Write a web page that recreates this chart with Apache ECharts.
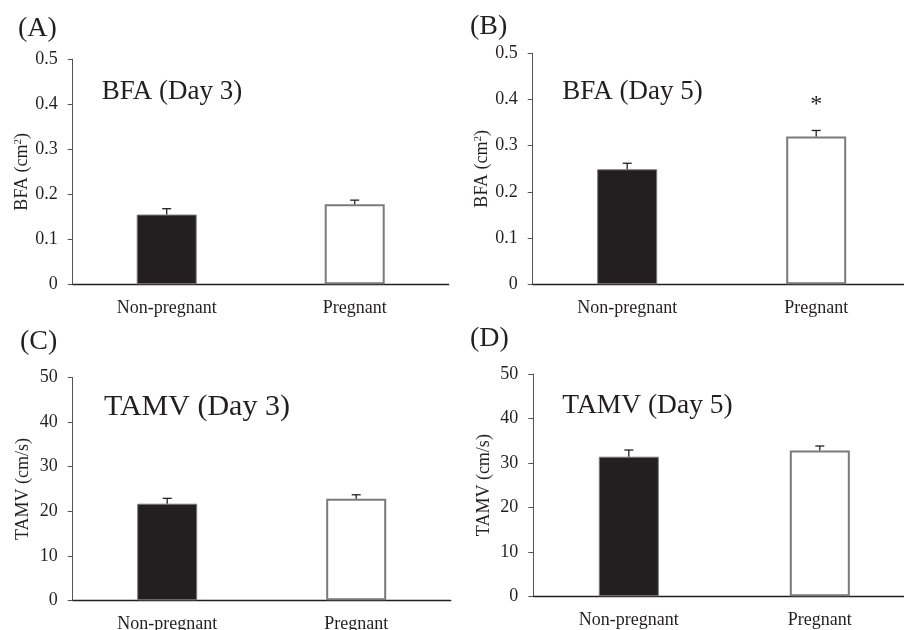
<!DOCTYPE html>
<html>
<head>
<meta charset="utf-8">
<script src="https://cdn.jsdelivr.net/npm/echarts@6/dist/echarts.min.js"></script>
<style>html,body{margin:0;padding:0;background:#fff}#c{width:904px;height:630px}</style>
</head>
<body>
<div id="c"></div>
<script>
const categories = ['Non-pregnant', 'Pregnant'];
const bfaDay3 = [0.155, 0.178];
const bfaDay3Err = [0.013, 0.009];
const bfaDay5 = [0.249, 0.320];
const bfaDay5Err = [0.013, 0.013];
const tamvDay3 = [21.7, 22.8];
const tamvDay3Err = [1.2, 0.9];
const tamvDay5 = [31.4, 32.8];
const tamvDay5Err = [1.5, 1.0];
const bfaDay5Sig = ['', '*'];
const bfaTicks = {min: 0, max: 0.5, interval: 0.1};
const tamvTicks = {min: 0, max: 50, interval: 10};

const FONT = '"Liberation Serif", "Times New Roman", serif';
const TXT = '#231f20';
const barColors = ['#231f20', '#ffffff'];

const grids = [
  {left: 72.7, top: 59.3, width: 376, height: 225, outerBoundsMode: 'none', containLabel: false},
  {left: 532.7, top: 53.3, width: 378, height: 231, outerBoundsMode: 'none', containLabel: false},
  {left: 72.7, top: 377.7, width: 378, height: 222.6, outerBoundsMode: 'none', containLabel: false},
  {left: 533.3, top: 374, width: 382, height: 222.3, outerBoundsMode: 'none', containLabel: false}
];

const panels = [
  {vals: bfaDay3, errs: bfaDay3Err, ticks: bfaTicks, name: 'BFA (cm{sup|2})', fmt: v => v === 0 ? '0' : v.toFixed(1), sig: null},
  {vals: bfaDay5, errs: bfaDay5Err, ticks: bfaTicks, name: 'BFA (cm{sup|2})', fmt: v => v === 0 ? '0' : v.toFixed(1), sig: bfaDay5Sig},
  {vals: tamvDay3, errs: tamvDay3Err, ticks: tamvTicks, name: 'TAMV (cm/s)', fmt: v => String(v), sig: null},
  {vals: tamvDay5, errs: tamvDay5Err, ticks: tamvTicks, name: 'TAMV (cm/s)', fmt: v => String(v), sig: null}
];

const xAxis = [], yAxis = [], series = [];
panels.forEach((p, i) => {
  xAxis.push({
    type: 'category', gridIndex: i, data: categories,
    axisLine: {lineStyle: {color: '#231f20', width: 1.3}},
    axisTick: {show: false},
    axisLabel: {fontFamily: FONT, fontSize: 18, color: TXT, margin: 15}
  });
  yAxis.push({
    type: 'value', gridIndex: i, min: p.ticks.min, max: p.ticks.max, interval: p.ticks.interval,
    name: p.name, nameLocation: 'middle', nameGap: 40, nameRotate: 90,
    nameTextStyle: {fontFamily: FONT, fontSize: 18, color: TXT,
      rich: {sup: {fontFamily: FONT, fontSize: 11, color: TXT, verticalAlign: 'top', padding: [0, 0, 8, 0]}}},
    axisLine: {show: true, lineStyle: {color: '#555', width: 1}},
    axisTick: {show: true, length: 5, lineStyle: {color: '#555'}},
    splitLine: {show: false},
    axisLabel: {fontFamily: FONT, fontSize: 18, color: TXT, margin: 15, formatter: p.fmt}
  });
  series.push({
    type: 'bar', xAxisIndex: i, yAxisIndex: i, barWidth: 60,
    data: p.vals.map((v, k) => ({value: v, itemStyle: {color: barColors[k], borderColor: '#7a7a7a', borderWidth: k === 0 ? 1 : 2}})),
    z: 2
  });
  series.push({
    type: 'custom', xAxisIndex: i, yAxisIndex: i, z: 5,
    data: p.vals.map((v, k) => [k, v, v + p.errs[k], p.sig ? p.sig[k] : '']),
    renderItem: function (params, api) {
      const x = api.value(0);
      const base = api.coord([x, api.value(1)]);
      const top = api.coord([x, api.value(2)]);
      const children = [
        {type: 'line', shape: {x1: base[0], y1: base[1], x2: top[0], y2: top[1]}, style: {stroke: '#231f20', lineWidth: 1.3}},
        {type: 'line', shape: {x1: top[0] - 4.5, y1: top[1], x2: top[0] + 4.5, y2: top[1]}, style: {stroke: '#231f20', lineWidth: 1.3}}
      ];
      const s = p.sig ? p.sig[x] : '';
      if (s) {
        children.push({type: 'text', style: {text: s, x: top[0], y: top[1] - 26, align: 'center', verticalAlign: 'middle',
          font: '24px ' + FONT, fill: TXT}});
      }
      return {type: 'group', children: children};
    }
  });
});

const graphic = [
  {type: 'text', left: 18, top: 15, style: {text: '(A)', font: '28px ' + FONT, fill: TXT}},
  {type: 'text', left: 470, top: 13, style: {text: '(B)', font: '28px ' + FONT, fill: TXT}},
  {type: 'text', left: 20, top: 328, style: {text: '(C)', font: '28px ' + FONT, fill: TXT}},
  {type: 'text', left: 470, top: 325, style: {text: '(D)', font: '28px ' + FONT, fill: TXT}},
  {type: 'text', left: 101.7, top: 78, style: {text: 'BFA (Day 3)', font: '27px ' + FONT, fill: TXT}},
  {type: 'text', left: 562.3, top: 78, style: {text: 'BFA (Day 5)', font: '27px ' + FONT, fill: TXT}},
  {type: 'text', left: 104, top: 392, style: {text: 'TAMV (Day 3)', font: '30px ' + FONT, fill: TXT}},
  {type: 'text', left: 562.3, top: 392, style: {text: 'TAMV (Day 5)', font: '27.5px ' + FONT, fill: TXT}}
];

const chart = echarts.init(document.getElementById('c'), null, {renderer: 'canvas'});
chart.setOption({
  animation: false,
  backgroundColor: '#fff',
  grid: grids,
  xAxis: xAxis,
  yAxis: yAxis,
  series: series,
  graphic: graphic
});
</script>
</body>
</html>
